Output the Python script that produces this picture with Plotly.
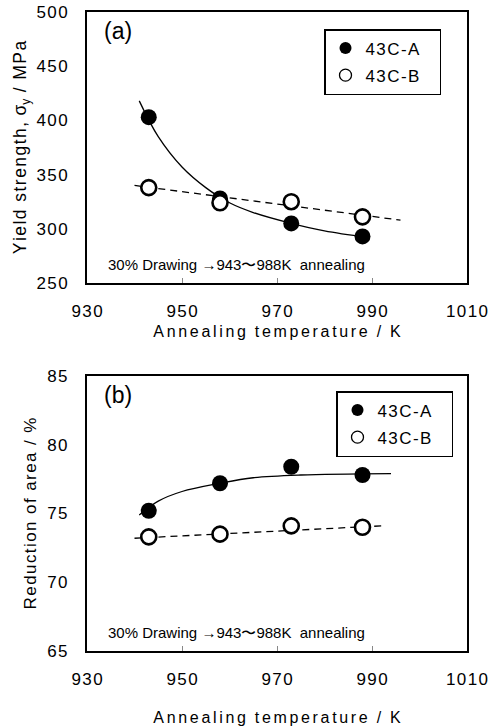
import plotly.graph_objects as go

# ---- data ----
temps = [943, 958, 973, 988]
ys_A = [403, 328, 305, 293]
ys_B = [338, 324, 325, 311]
ra_A = [75.2, 77.2, 78.4, 77.8]
ra_B = [73.3, 73.5, 74.1, 74.0]

# fitted curves
fitA_x = [941, 945, 950, 955, 960, 965, 973, 980, 989]
fitA_y = [418, 385, 357, 338, 324, 315, 305, 298, 292]
fitB_x = [940, 996]
fitB_y = [340, 308]
fitRA_x = [941, 945, 950, 958, 965, 975, 994]
fitRA_y = [74.9, 75.9, 76.6, 77.2, 77.6, 77.8, 77.9]
fitRB_x = [940, 992]
fitRB_y = [73.2, 74.1]

xticks = [930, 950, 970, 990, 1010]
yticks_top = [250, 300, 350, 400, 450, 500]
yticks_bot = [65, 70, 75, 80, 85]

series_names = ["43C-A", "43C-B"]

HS = "\u200a"
def spaced(s, sep=HS):
    return sep.join(list(s))

FONT = "Liberation Sans, Arial, sans-serif"
fig = go.Figure()

def add_panel(xa, ya, yA, yB, fAx, fAy, fBx, fBy, legend):
    fig.add_trace(go.Scatter(x=fAx, y=fAy, mode="lines", line=dict(color="black", width=1.3, shape="spline"),
                             xaxis=xa, yaxis=ya, showlegend=False, hoverinfo="skip"))
    fig.add_trace(go.Scatter(x=fBx, y=fBy, mode="lines", line=dict(color="black", width=1.3, dash="7px,5px"),
                             xaxis=xa, yaxis=ya, showlegend=False, hoverinfo="skip"))
    fig.add_trace(go.Scatter(x=temps, y=yA, mode="markers",
                             marker=dict(symbol="circle", size=16, color="black"),
                             xaxis=xa, yaxis=ya, showlegend=False))
    fig.add_trace(go.Scatter(x=temps, y=yB, mode="markers",
                             marker=dict(symbol="circle", size=15, color="white", line=dict(color="black", width=2.6)),
                             xaxis=xa, yaxis=ya, showlegend=False))
    # legend entries
    fig.add_trace(go.Scatter(x=[None], y=[None], mode="markers", name=spaced(series_names[0]) + "   ",
                             marker=dict(symbol="circle", size=12, color="black"),
                             xaxis=xa, yaxis=ya, legend=legend, legendgroup=legend + "a"))
    fig.add_trace(go.Scatter(x=[None], y=[None], mode="markers", name=spaced(series_names[1]) + "   ",
                             marker=dict(symbol="circle-open", size=12, color="black", line=dict(width=1.3)),
                             xaxis=xa, yaxis=ya, legend=legend, legendgroup=legend + "b"))

add_panel("x", "y", ys_A, ys_B, fitA_x, fitA_y, fitB_x, fitB_y, "legend")
add_panel("x2", "y2", ra_A, ra_B, fitRA_x, fitRA_y, fitRB_x, fitRB_y, "legend2")

xcommon = dict(range=[930, 1010], tickvals=xticks, ticktext=[spaced(str(t)) for t in xticks],
               ticks="inside", ticklen=5, tickcolor="#888", tickwidth=1, automargin=False,
               showline=True, linecolor="black", linewidth=2, mirror=True, showgrid=False, zeroline=False,
               tickfont=dict(family=FONT, size=17, color="black"), ticklabelstandoff=12)
ycommon = dict(ticks="", showline=True, linecolor="black", linewidth=2, mirror=True, showgrid=False,
               zeroline=False, automargin=False,
               tickfont=dict(family=FONT, size=17, color="black"), ticklabelstandoff=14)

xtitle_text = spaced("Annealing temperature / K", "\u200a\u200a").replace("\u200a\u200a \u200a\u200a", "  ")
XT_FONT = dict(family=FONT, size=16, color="black")

# domains in paper coords: plot area from px 12 to 651 (height 639)
top_dom = [(651 - 283) / 639, 1.0]
bot_dom = [0.0, (651 - 376) / 639]

fig.update_layout(
    width=501, height=727,
    margin=dict(l=87, r=34, t=12, b=76),
    paper_bgcolor="white", plot_bgcolor="white",
    xaxis=dict(**xcommon, domain=[0, 1], anchor="y",
               title=dict(text=xtitle_text, font=XT_FONT, standoff=5)),
    yaxis=dict(**ycommon, domain=top_dom, anchor="x", range=[250, 500], tickvals=yticks_top,
               ticktext=[spaced(str(t)) for t in yticks_top],
               title=dict(text=spaced("Yield strength, ") + "σ<sub>y</sub>" + spaced(" / MPa"),
                          font=dict(family=FONT, size=17.5, color="black"), standoff=5)),
    xaxis2=dict(**xcommon, domain=[0, 1], anchor="y2",
                title=dict(text=xtitle_text, font=XT_FONT, standoff=23)),
    yaxis2=dict(**ycommon, domain=bot_dom, anchor="x2", range=[65, 85], tickvals=yticks_bot,
                ticktext=[spaced(str(t)) for t in yticks_bot],
                title=dict(text=spaced("Reduction of area / %"), font=dict(family=FONT, size=17, color="black"),
                           standoff=6)),
    legend=dict(x=(324 - 87) / 380, y=(651 - 29) / 639, xanchor="left", yanchor="top",
                bordercolor="black", borderwidth=1.5, bgcolor="white",
                font=dict(family=FONT, size=17, color="black"), tracegroupgap=2, traceorder="grouped",
                itemwidth=30),
    legend2=dict(x=(336 - 87) / 380, y=(651 - 391) / 639, xanchor="left", yanchor="top",
                 bordercolor="black", borderwidth=1.5, bgcolor="white",
                 font=dict(family=FONT, size=17, color="black"), tracegroupgap=2, traceorder="grouped",
                 itemwidth=30),
    showlegend=True,
)

note = "30% Drawing \u2192943\u301c988K  annealing"
NOTE_FONT = dict(family=FONT, size=15, color="black")
fig.add_annotation(text=note, xref="x domain", yref="y domain", x=0.05, y=0.03, xanchor="left", yanchor="bottom",
                   showarrow=False, font=NOTE_FONT)
fig.add_annotation(text=note, xref="x2 domain", yref="y2 domain", x=0.05, y=0.03, xanchor="left", yanchor="bottom",
                   showarrow=False, font=NOTE_FONT)
fig.add_annotation(text="(a)", xref="x domain", yref="y domain", x=0.04, y=0.985, xanchor="left", yanchor="top",
                   showarrow=False, font=dict(family=FONT, size=23, color="black"))
fig.add_annotation(text="(b)", xref="x2 domain", yref="y2 domain", x=0.04, y=0.985, xanchor="left", yanchor="top",
                   showarrow=False, font=dict(family=FONT, size=23, color="black"))

fig.write_html("out.html")
